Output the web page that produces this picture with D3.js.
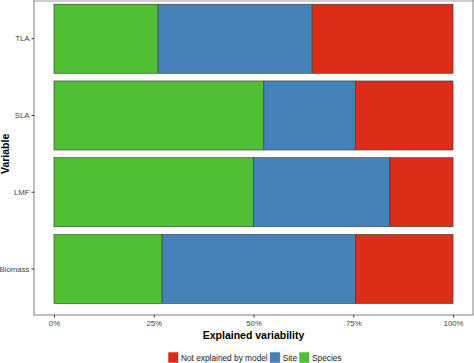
<!DOCTYPE html>
<html>
<head>
<meta charset="utf-8">
<script src="https://cdn.jsdelivr.net/npm/d3@7"></script>
<style>
  body { margin: 0; background: #fff; }
  svg { display: block; font-family: "Liberation Sans", Arial, Helvetica, sans-serif; }
  .tick text { fill: #444; font-size: 7.8px; }
  .tick line { stroke: #333; }
  .domain { display: none; }
</style>
</head>
<body>
<div id="chart"></div>
<script>
const width = 474;
const height = 363;

// data: share of explained variability per trait (percent)
const variables = ['TLA', 'SLA', 'LMF', 'Biomass'];
const species = [26.1, 52.6, 50.0, 27.1];
const site = [38.6, 22.9, 34.2, 48.5];
const notExplained = [35.3, 24.5, 15.8, 24.4];

const components = ['Species', 'Site', 'Not explained by model'];
const componentColors = ['#4fbe33', '#4482b9', '#dc2d19'];
const legendOrder = ['Not explained by model', 'Site', 'Species'];
const xTicks = [0, 25, 50, 75, 100];

const rows = variables.map((v, i) => ({
  variable: v,
  Species: species[i],
  Site: site[i],
  'Not explained by model': notExplained[i],
}));

const stacked = d3.stack().keys(components)(rows);

const panel = { left: 34, right: 473, top: -7.3, bottom: 315 };

const x = d3.scaleLinear().domain([-5, 105]).range([panel.left, panel.right]);
const y = d3.scaleBand()
  .domain(variables)
  .range([panel.top, panel.bottom])
  .paddingInner(0.1)
  .paddingOuter(0.15);
const color = d3.scaleOrdinal().domain(components).range(componentColors);

const svg = d3.select('#chart')
  .append('svg')
  .attr('width', width)
  .attr('height', height);

// light line along the top edge of the picture
svg.append('rect')
  .attr('x', panel.left)
  .attr('y', 0)
  .attr('width', width - panel.left)
  .attr('height', 2)
  .attr('fill', '#d0d0d0');

// bars
svg.append('g')
  .selectAll('g')
  .data(stacked)
  .enter()
  .append('g')
  .attr('fill', d => color(d.key))
  .selectAll('rect')
  .data(d => d)
  .enter()
  .append('rect')
  .attr('x', d => x(d[0]))
  .attr('y', d => y(d.data.variable))
  .attr('width', d => x(d[1]) - x(d[0]))
  .attr('height', y.bandwidth())
  .attr('stroke', '#3a3a3a')
  .attr('stroke-width', 0.6);

// panel border
svg.append('rect')
  .attr('x', panel.left)
  .attr('y', panel.top)
  .attr('width', panel.right - panel.left)
  .attr('height', panel.bottom - panel.top)
  .attr('fill', 'none')
  .attr('stroke', '#8c8c8c')
  .attr('stroke-width', 1.1);

const xAxis = d3.axisBottom(x)
  .tickValues(xTicks)
  .tickFormat(d => `${d}%`)
  .tickSize(2.5)
  .tickPadding(3);

svg.append('g')
  .attr('transform', `translate(0, ${panel.bottom})`)
  .call(xAxis);

const yAxis = d3.axisLeft(y)
  .tickSize(2.5)
  .tickPadding(2);

svg.append('g')
  .attr('transform', `translate(${panel.left}, 0)`)
  .call(yAxis)
  .selectAll('text')
  .attr('dy', '0.35em');

// axis titles
svg.append('text')
  .attr('x', (panel.left + panel.right) / 2)
  .attr('y', 339)
  .attr('text-anchor', 'middle')
  .attr('font-size', 10.5)
  .attr('font-weight', 'bold')
  .text('Explained variability');

svg.append('text')
  .attr('transform', `translate(9, ${(panel.top + panel.bottom) / 2}) rotate(-90)`)
  .attr('text-anchor', 'middle')
  .attr('font-size', 10.5)
  .attr('font-weight', 'bold')
  .text('Variable');

// legend
const legend = svg.append('g').attr('transform', 'translate(168, 352)');
let offset = 0;
legendOrder.forEach((name) => {
  const item = legend.append('g').attr('transform', `translate(${offset}, 0)`);
  item.append('rect')
    .attr('width', 10.5)
    .attr('height', 11)
    .attr('fill', color(name))
    .attr('stroke', '#fff')
    .attr('stroke-width', 0.5);
  const label = item.append('text')
    .attr('x', 13)
    .attr('y', 8.5)
    .attr('font-size', 8.3)
    .attr('fill', '#1a1a1a')
    .text(name);
  offset += 13 + label.node().getComputedTextLength() + 2;
});
</script>
</body>
</html>
